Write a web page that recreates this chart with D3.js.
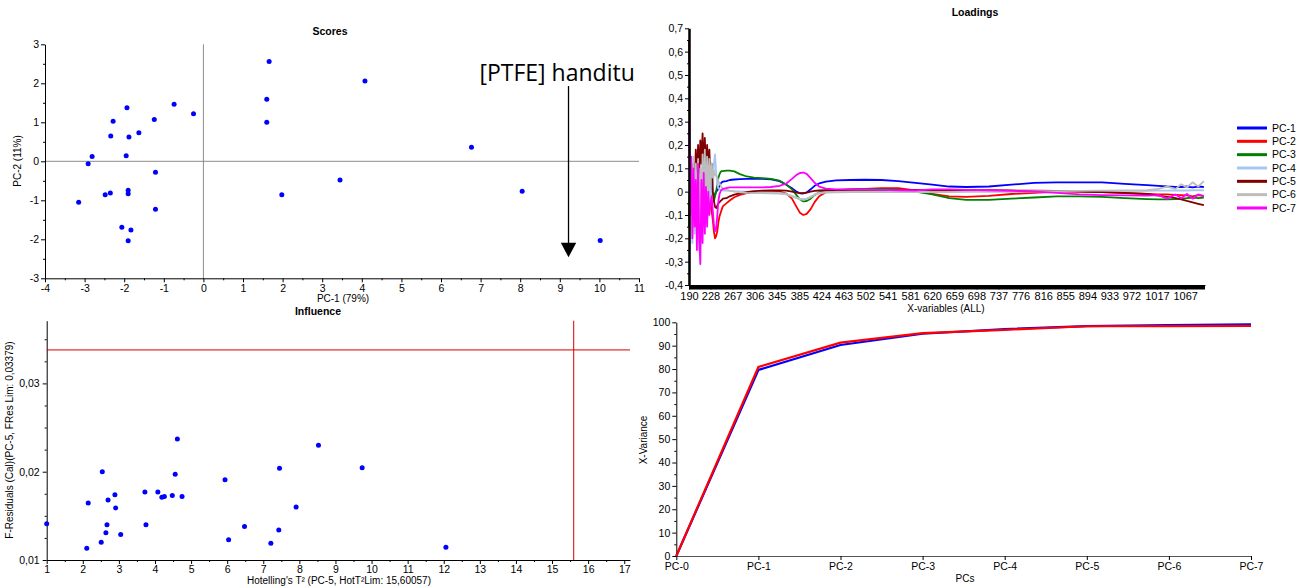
<!DOCTYPE html>
<html>
<head>
<meta charset="utf-8">
<script src="https://cdn.jsdelivr.net/npm/d3@7"></script>
<style>
body { margin: 0; background: #fff; }
svg text { font-family: "Liberation Sans", Arial, sans-serif; fill: #000; }
.tick text { font-size: 10.5px; }
.title { font-size: 10.5px; font-weight: bold; text-anchor: middle; }
.aText { font-size: 10px; text-anchor: middle; }
</style>
</head>
<body>
<div id="chart"></div>
<script>
// ---- Scores (PC-1 vs PC-2) ----
var scoreX = [1.66, 1.60, 1.60, 1.98, -0.74, -0.25, -1.24, -1.93, -2.28, -1.63, -2.34, -1.88, -2.81, -1.95, -2.91,
    -1.21, -3.15, -2.48, -2.35, -1.90, -1.90, -1.21, -2.06, -1.83, -1.90, 4.08, 3.45, 6.77, 8.05, 10.02];
var scoreY = [2.56, 1.59, 1.00, -0.86, 1.46, 1.22, 1.07, 1.37, 1.03, 0.73, 0.65, 0.62, 0.12, 0.14, -0.06,
    -0.28, -1.05, -0.86, -0.81, -0.74, -0.83, -1.23, -1.69, -1.76, -2.04, 2.06, -0.48, 0.36, -0.77, -2.03];

// ---- Loadings ----
var loadTicks = [190, 228, 267, 306, 345, 385, 424, 463, 502, 541, 581, 620, 659, 698, 737, 776, 816, 855, 894, 933, 972, 1017, 1067];
var waves = [190, 192, 194, 196, 198, 200, 202, 204, 206, 208, 210, 212, 214, 216, 218, 220, 222, 224, 226, 228,
    230, 232, 234, 236, 238, 240, 242, 244, 246, 248, 250,
    256, 262, 270, 280, 292, 305, 320, 335, 350, 362, 372, 380, 386, 392, 398, 405, 412, 420, 432, 450,
    475, 500, 530, 560, 590, 620, 650, 680, 720, 760, 800, 840, 880, 920, 960, 1000, 1020, 1035, 1050, 1060,
    1070, 1080, 1090, 1100];
var pc1 = [-0.12, 0.05, -0.08, 0.04, -0.06, 0.06, -0.04, 0.05, -0.05, 0.03, -0.03, 0.04, -0.04, 0.03, -0.03, 0.02,
    -0.02, 0.02, -0.02, 0.01, -0.02, 0.0, -0.02, -0.01, 0.0, 0.005, 0.015, 0.025, 0.035, 0.04, 0.043,
    0.045, 0.05, 0.052, 0.054, 0.055, 0.055, 0.055, 0.053, 0.045, 0.03, 0.015, 0.0, -0.007, -0.008, -0.003, 0.01,
    0.025, 0.035, 0.043, 0.048, 0.05, 0.051, 0.05, 0.045, 0.038, 0.03, 0.022, 0.02, 0.022, 0.03, 0.038, 0.04,
    0.04, 0.04, 0.033, 0.028, 0.025, 0.022, 0.02, 0.02, 0.022, 0.018, 0.022, 0.02];
var pc2 = [-0.1, 0.08, -0.12, 0.06, -0.08, 0.1, -0.06, 0.08, -0.1, 0.05, -0.08, 0.06, -0.06, 0.04, -0.08, 0.03,
    -0.06, 0.02, -0.05, -0.02, -0.08, -0.12, -0.17, -0.2, -0.19, -0.17, -0.13, -0.105, -0.09, -0.075, -0.062,
    -0.05, -0.038, -0.024, -0.014, -0.006, -0.002, 0.0, 0.002, 0.0, -0.008, -0.03, -0.065, -0.09, -0.1, -0.095, -0.075,
    -0.045, -0.02, -0.002, 0.005, 0.01, 0.012, 0.015, 0.015, 0.005, -0.01, -0.02, -0.022, -0.018, -0.01, -0.005, 0.0,
    0.0, -0.002, -0.006, -0.01, -0.012, -0.012, -0.014, -0.015, -0.016, -0.02, -0.015, -0.018];
var pc3 = [-0.15, 0.06, -0.1, 0.08, -0.12, 0.05, -0.08, 0.1, -0.06, 0.07, -0.1, 0.04, -0.07, 0.08, -0.05, 0.06,
    -0.04, 0.05, -0.03, 0.04, -0.02, 0.03, -0.04, -0.02, 0.0, 0.03, 0.06, 0.075, 0.085, 0.088, 0.088,
    0.09, 0.09, 0.087, 0.075, 0.065, 0.06, 0.058, 0.055, 0.047, 0.03, 0.01, -0.015, -0.033, -0.042, -0.04, -0.03,
    -0.015, -0.003, 0.005, 0.008, 0.01, 0.012, 0.012, 0.01, 0.0, -0.012, -0.028, -0.035, -0.035, -0.03, -0.025, -0.02,
    -0.02, -0.022, -0.028, -0.032, -0.033, -0.033, -0.032, -0.03, -0.028, -0.025, -0.028, -0.025];
var pc4 = [-0.4, -0.15, 0.05, -0.22, 0.1, -0.18, 0.12, -0.2, 0.08, -0.25, 0.1, -0.15, 0.12, -0.1, 0.15, -0.12,
    0.1, -0.08, 0.13, -0.05, 0.08, -0.02, 0.12, 0.16, 0.08, 0.03, 0.015, 0.01, 0.008, 0.006, 0.005,
    0.004, 0.003, 0.002, 0.001, 0.0, 0.0, -0.002, -0.003, -0.005, -0.01, -0.018, -0.025, -0.03, -0.032, -0.03, -0.022,
    -0.012, -0.005, 0.0, 0.0, 0.0, 0.0, 0.0, 0.0, 0.0, 0.0, 0.0, 0.0, 0.0, 0.0, 0.0, 0.0,
    0.002, 0.002, 0.003, 0.003, 0.004, 0.004, 0.005, 0.005, 0.005, 0.006, 0.006, 0.006];
var pc5 = [0.65, -0.16, 0.05, -0.1, 0.12, 0.02, 0.18, 0.05, 0.2, 0.08, 0.22, 0.12, 0.25, 0.1, 0.23, 0.08,
    0.2, 0.1, 0.18, 0.05, 0.12, 0.0, -0.04, -0.065, -0.07, -0.06, -0.05, -0.045, -0.04, -0.035, -0.03,
    -0.028, -0.02, -0.013, -0.007, -0.002, 0.002, 0.004, 0.005, 0.005, 0.004, 0.0, -0.004, -0.006, -0.006, -0.004, 0.0,
    0.003, 0.005, 0.006, 0.007, 0.008, 0.008, 0.008, 0.008, 0.007, 0.006, 0.006, 0.006, 0.006, 0.005, 0.004, 0.003,
    0.0, -0.002, -0.005, -0.01, -0.017, -0.022, -0.028, -0.033, -0.04, -0.046, -0.052, -0.058];
var pc6 = [0.55, -0.22, 0.1, -0.18, 0.15, -0.1, 0.12, -0.15, 0.14, -0.22, 0.1, -0.12, 0.16, -0.05, 0.18, -0.08,
    0.15, -0.03, 0.14, 0.02, 0.12, 0.06, 0.09, 0.07, 0.07, 0.06, 0.045, 0.035, 0.025, 0.018, 0.012,
    0.008, 0.004, 0.0, -0.003, -0.005, -0.006, -0.006, -0.007, -0.008, -0.012, -0.02, -0.028, -0.033, -0.035, -0.032, -0.024,
    -0.014, -0.007, -0.004, -0.003, -0.002, -0.002, -0.002, -0.002, -0.002, -0.002, -0.002, 0.0, 0.0, 0.0, 0.002, 0.002,
    0.003, 0.004, 0.005, 0.006, 0.012, 0.022, 0.012, 0.032, 0.018, 0.04, 0.022, 0.045];
var pc7 = [0.3, -0.1, 0.15, -0.2, 0.1, -0.15, 0.05, -0.25, 0.12, -0.2, -0.31, 0.05, -0.22, 0.08, -0.18, 0.02,
    -0.15, 0.0, -0.1, -0.05, -0.02, -0.08, -0.14, -0.17, -0.16, -0.1, -0.04, -0.01, 0.003, 0.008, 0.012,
    0.015, 0.018, 0.018, 0.018, 0.018, 0.018, 0.018, 0.02, 0.025, 0.035, 0.055, 0.072, 0.08, 0.082, 0.076, 0.058,
    0.038, 0.022, 0.013, 0.01, 0.01, 0.01, 0.008, 0.006, 0.005, 0.01, 0.01, 0.008, 0.006, 0.003, 0.0, -0.005,
    -0.012, -0.015, -0.016, -0.017, -0.015, -0.03, -0.012, -0.028, -0.01, -0.03, -0.012, -0.02];
var pcNames = ["PC-1", "PC-2", "PC-3", "PC-4", "PC-5", "PC-6", "PC-7"];
var pcColors = ["#0000ff", "#ff0000", "#008000", "#a6c8f0", "#800000", "#bdbdbd", "#ff00ff"];
var loadings = [pc1, pc2, pc3, pc4, pc5, pc6, pc7];

// ---- Influence ----
var infT2 = [1.00, 2.11, 2.15, 2.54, 2.51, 2.64, 2.67, 2.70, 2.89, 2.91, 3.05, 3.72, 3.75, 4.08, 4.19,
    4.26, 4.48, 4.56, 4.62, 4.75, 5.94, 6.04, 6.48, 7.21, 7.43, 7.45, 7.91, 8.53, 9.74, 12.06];
var infRes = [0.01411, 0.01132, 0.01645, 0.0200, 0.0120, 0.0131, 0.0140, 0.0168, 0.0174, 0.0159, 0.0129, 0.0177, 0.0140, 0.0177, 0.0171,
    0.0172, 0.0173, 0.0197, 0.0237, 0.0172, 0.0191, 0.0123, 0.0138, 0.0119, 0.0134, 0.0204, 0.0160, 0.0230, 0.02045, 0.01144];
var fResLim = 0.03379;
var hotT2Lim = 15.60057;

// ---- Explained variance ----
var varPCs = ["PC-0", "PC-1", "PC-2", "PC-3", "PC-4", "PC-5", "PC-6", "PC-7"];
var varCal = [0, 79.6, 90.3, 95.1, 97.1, 98.4, 98.8, 99.1];
var varVal = [0, 80.9, 91.3, 95.4, 96.8, 98.3, 98.4, 98.5];

var svgWidth = 1297;
var svgHeight = 588;

var svg = d3.select("#chart")
    .append("svg")
    .attr("width", svgWidth)
    .attr("height", svgHeight);

var locale = d3.formatLocale({ decimal: ",", thousands: ".", grouping: [3], currency: ["", ""], minus: "-" });
var fmtInt = locale.format("d");
var fmt1 = function(d) { return d === 0 ? "0" : locale.format(".1f")(d); };
var fmt2 = locale.format(".2f");

function minorAxis(g, axis, values, size) {
    g.call(axis.tickValues(values).tickSize(size).tickFormat("").tickSizeOuter(0));
    g.select(".domain").remove();
}

// ================= Scores =================
var sx = d3.scaleLinear().domain([-4, 11]).range([45, 639]);
var sy = d3.scaleLinear().domain([-3, 3]).range([278.3, 44.3]);

svg.append("line")
    .attr("x1", sx(-4)).attr("x2", sx(11))
    .attr("y1", sy(0)).attr("y2", sy(0))
    .attr("stroke", "#8c8c8c");
svg.append("line")
    .attr("x1", sx(0)).attr("x2", sx(0))
    .attr("y1", sy(3)).attr("y2", sy(-3))
    .attr("stroke", "#8c8c8c");

svg.append("g")
    .attr("transform", `translate(0, ${sy(-3)})`)
    .call(d3.axisBottom(sx).tickValues(d3.range(-4, 12)).tickFormat(fmtInt).tickSize(4).tickPadding(2).tickSizeOuter(0));
svg.append("g")
    .attr("transform", `translate(0, ${sy(-3)})`)
    .call(minorAxis, d3.axisBottom(sx), d3.range(-3.5, 11, 1), 2);
svg.append("g")
    .attr("transform", `translate(${sx(-4)}, 0)`)
    .call(d3.axisLeft(sy).tickValues(d3.range(-3, 4)).tickFormat(fmtInt).tickSize(4).tickPadding(2).tickSizeOuter(0));
svg.append("g")
    .attr("transform", `translate(${sx(-4)}, 0)`)
    .call(minorAxis, d3.axisLeft(sy), d3.range(-2.5, 3, 1), 2);

svg.selectAll(".scoreDot")
    .data(scoreX)
    .enter()
    .append("circle")
    .attr("class", "scoreDot")
    .attr("cx", d => sx(d))
    .attr("cy", (d, i) => sy(scoreY[i]))
    .attr("r", 2.5)
    .attr("fill", "#0000ff");

svg.append("text").attr("class", "title").attr("x", 330).attr("y", 35).text("Scores");
svg.append("text").attr("class", "aText").attr("x", 343).attr("y", 302).text("PC-1 (79%)");
svg.append("text").attr("class", "aText")
    .attr("transform", "translate(21, 161) rotate(-90)")
    .text("PC-2 (11%)");

// annotation arrow
svg.append("text")
    .attr("x", sx(6.97))
    .attr("y", sy(2.06))
    .style("font-family", "'Open Sans', 'Noto Sans', sans-serif")
    .style("font-size", "23px")
    .text("[PTFE] handitu");
svg.append("line")
    .attr("x1", sx(9.22)).attr("x2", sx(9.22))
    .attr("y1", sy(1.93)).attr("y2", sy(-2.1))
    .attr("stroke", "#000")
    .attr("stroke-width", 1.3);
svg.append("path")
    .attr("d", `M${sx(9.22) - 7.7},${sy(-2.09)} L${sx(9.22) + 7.7},${sy(-2.09)} L${sx(9.22)},${sy(-2.46)} Z`)
    .attr("fill", "#000");

// ================= Loadings =================
var lx = d3.scaleLinear().domain([190, 1102]).range([689, 1205]);
var ly = d3.scaleLinear().domain([-0.4, 0.7]).range([285, 28.3]);

var lineGen = d3.line()
    .x((d, i) => lx(waves[i]))
    .y(d => ly(d));

svg.selectAll(".loadLine")
    .data(loadings)
    .enter()
    .append("path")
    .attr("class", "loadLine")
    .attr("d", d => lineGen(d))
    .attr("fill", "none")
    .attr("stroke", (d, i) => pcColors[i])
    .attr("stroke-width", 1.8)
    .attr("stroke-linejoin", "round");

var lxAxis = svg.append("g")
    .attr("transform", `translate(0, ${ly(-0.4)})`)
    .call(d3.axisBottom(lx).tickValues(loadTicks).tickFormat(d => d).tickSize(4.5).tickPadding(3).tickSizeOuter(0));
lxAxis.selectAll(".tick text").style("font-size", "11px");
svg.append("rect")
    .attr("x", lx(190)).attr("y", ly(-0.4))
    .attr("width", lx(1102) - lx(190)).attr("height", 4.5)
    .attr("fill", "#000");

var lyAxis = svg.append("g")
    .attr("transform", `translate(${lx(190)}, 0)`)
    .call(d3.axisLeft(ly).tickValues(d3.range(-4, 8).map(v => v / 10)).tickFormat(fmt1).tickSize(4).tickPadding(2).tickSizeOuter(0));
lyAxis.select(".domain").attr("stroke-width", 2.5);
svg.append("g")
    .attr("transform", `translate(${lx(190)}, 0)`)
    .call(minorAxis, d3.axisLeft(ly), d3.range(-7, 14, 2).map(v => v / 20), 2);

svg.append("text").attr("class", "title").attr("x", 975).attr("y", 16).text("Loadings");
svg.append("text").attr("class", "aText").attr("x", 946).attr("y", 311.5).text("X-variables (ALL)");

var legend = svg.append("g");
pcNames.forEach(function(name, i) {
    var yy = 128 + i * 13.33;
    legend.append("line")
        .attr("x1", 1237).attr("x2", 1267)
        .attr("y1", yy).attr("y2", yy)
        .attr("stroke", pcColors[i])
        .attr("stroke-width", 3);
    legend.append("text")
        .attr("x", 1272).attr("y", yy + 3.8)
        .style("font-size", "10.5px")
        .text(name);
});

// ================= Influence =================
var ix = d3.scaleLinear().domain([1, 17.16]).range([46.7, 630]);
var iy = d3.scaleLinear().domain([0.01, 0.0371]).range([560, 320.7]);

svg.append("g")
    .attr("transform", `translate(0, ${iy(0.01)})`)
    .call(d3.axisBottom(ix).tickValues(d3.range(1, 18)).tickFormat(fmtInt).tickSize(4).tickPadding(2).tickSizeOuter(0));
svg.append("g")
    .attr("transform", `translate(0, ${iy(0.01)})`)
    .call(minorAxis, d3.axisBottom(ix), d3.range(1.5, 17, 1), 2);
svg.append("g")
    .attr("transform", `translate(${ix(1)}, 0)`)
    .call(d3.axisLeft(iy).tickValues([0.01, 0.02, 0.03]).tickFormat(fmt2).tickSize(4).tickPadding(3).tickSizeOuter(0));
svg.append("g")
    .attr("transform", `translate(${ix(1)}, 0)`)
    .call(minorAxis, d3.axisLeft(iy), [0.0125, 0.015, 0.0175, 0.0225, 0.025, 0.0275, 0.0325, 0.035], 2);

svg.append("line")
    .attr("x1", ix(1)).attr("x2", ix(17.16))
    .attr("y1", iy(fResLim)).attr("y2", iy(fResLim))
    .attr("stroke", "#d40000");
svg.append("line")
    .attr("x1", ix(hotT2Lim)).attr("x2", ix(hotT2Lim))
    .attr("y1", iy(0.0371)).attr("y2", iy(0.01))
    .attr("stroke", "#d40000");

svg.selectAll(".infDot")
    .data(infT2)
    .enter()
    .append("circle")
    .attr("class", "infDot")
    .attr("cx", d => ix(d))
    .attr("cy", (d, i) => iy(infRes[i]))
    .attr("r", 2.5)
    .attr("fill", "#0000ff");

svg.append("text").attr("class", "title").attr("x", 318).attr("y", 315).text("Influence");
svg.append("text").attr("class", "aText").attr("x", 339).attr("y", 584)
    .text("Hotelling's T² (PC-5, HotT²Lim: 15,60057)");
svg.append("text").attr("class", "aText")
    .attr("transform", "translate(13, 440) rotate(-90)")
    .text("F-Residuals (Cal)(PC-5, FRes Lim: 0,03379)");

// ================= Explained variance =================
var vx = d3.scalePoint().domain(varPCs).range([676.3, 1251]);
var vy = d3.scaleLinear().domain([0, 100]).range([556, 322.3]);

var vxAxis = svg.append("g")
    .attr("transform", `translate(0, ${vy(0)})`)
    .call(d3.axisBottom(vx).tickSize(4).tickPadding(3).tickSizeOuter(0));
vxAxis.select(".domain").attr("stroke", "#555");
svg.append("g")
    .attr("transform", `translate(${vx("PC-0")}, 0)`)
    .call(d3.axisLeft(vy).tickValues(d3.range(0, 101, 10)).tickSize(4).tickPadding(2).tickSizeOuter(0));
svg.append("g")
    .attr("transform", `translate(${vx("PC-0")}, 0)`)
    .call(minorAxis, d3.axisLeft(vy), d3.range(5, 100, 10), 2);

var varLine = d3.line()
    .x((d, i) => vx(varPCs[i]))
    .y(d => vy(d));

svg.append("path")
    .attr("d", varLine(varCal))
    .attr("fill", "none")
    .attr("stroke", "#0000ff")
    .attr("stroke-width", 2.2);
svg.append("path")
    .attr("d", varLine(varVal))
    .attr("fill", "none")
    .attr("stroke", "#ff0000")
    .attr("stroke-width", 2.2);

svg.append("text").attr("class", "aText").attr("x", 965).attr("y", 582).text("PCs");
svg.append("text").attr("class", "aText")
    .attr("transform", "translate(647, 440) rotate(-90)")
    .text("X-Variance");
</script>
</body>
</html>
